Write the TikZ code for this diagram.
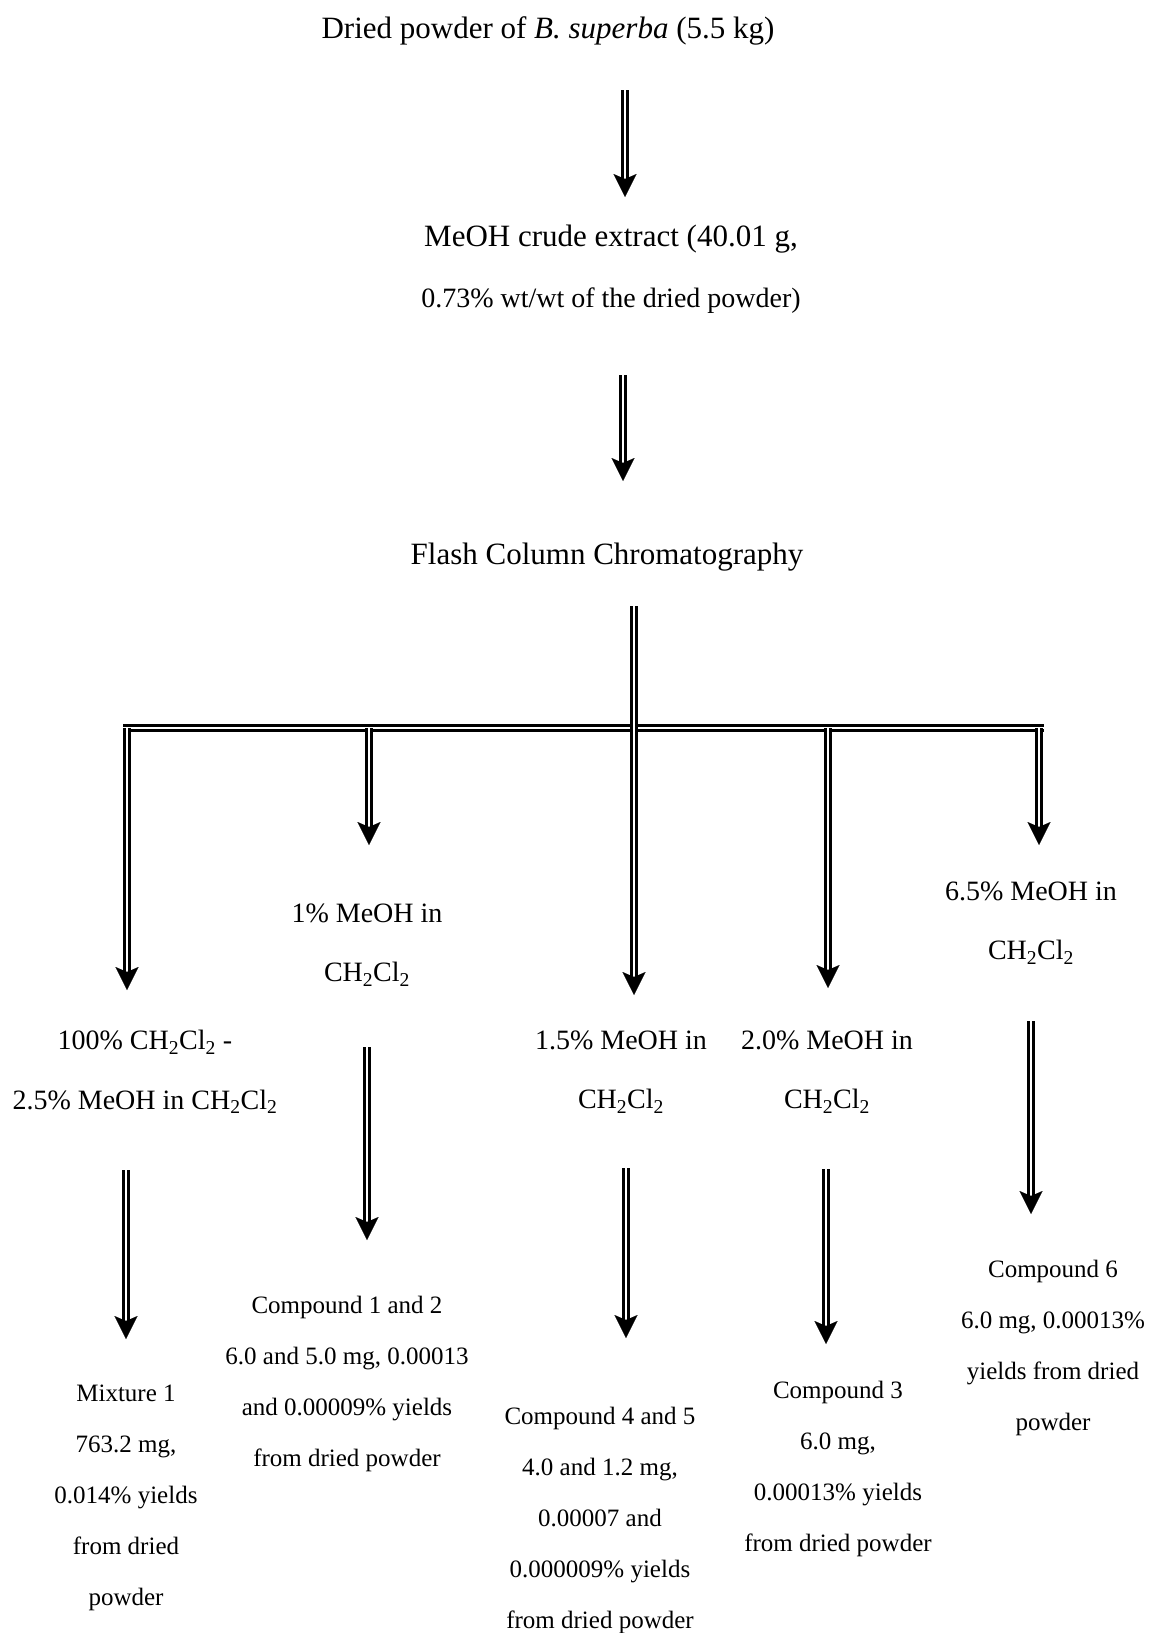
\documentclass[tikz,border=0pt]{standalone}
\usepackage{fontspec}
\setmainfont{Liberation Serif}
\usetikzlibrary{arrows.meta}
\newcommand\chcl{CH\textsubscript{2}Cl\textsubscript{2}}
\tikzset{
  shaft/.style={draw=black, double=white, double distance=2pt, line width=2.8pt, shorten >=12pt},
  headonly/.style={draw=white, line width=0.1pt, -{Stealth[length=23pt,width=23pt,inset=5pt,black]}},
  bar/.style={draw=black, double=white, double distance=2pt, line width=2.8pt},
  big/.style={font=\fontsize{31}{61}\selectfont, inner sep=0pt, align=center},
  lab/.style={font=\fontsize{28}{59.5}\selectfont, inner sep=0pt, align=center},
  res/.style={font=\fontsize{25}{51}\selectfont, inner sep=0pt, align=center}
}
\newcommand\dblarr[2]{\draw[shaft] (#1) -- (#2); \draw[headonly] (#1) -- (#2);}
\begin{document}
\begin{tikzpicture}[x=1pt,y=-1pt]
\useasboundingbox (0,0) rectangle (1150,1633);
% texts
\node[big] (title) at (548,31) {Dried powder of \textit{B. superba} (5.5 kg)};
\node[big] (crude) at (611,269) {MeOH crude extract (40.01 g,\\{\fontsize{28}{61}\selectfont 0.73\% wt/wt of the dried powder)}};
\node[big] (fcc) at (607,557) {Flash Column Chromatography};
\node[lab] (f1) at (145,1072) {100\% \chcl{} -\\2.5\% MeOH in \chcl};
\node[lab] (f2) at (367,945) {1\% MeOH in\\\chcl};
\node[lab] (f3) at (621,1072) {1.5\% MeOH in\\\chcl};
\node[lab] (f4) at (827,1072) {2.0\% MeOH in\\\chcl};
\node[lab] (f5) at (1031,923) {6.5\% MeOH in\\\chcl};
\node[res] (r1) at (126,1498) {Mixture 1\\763.2 mg,\\0.014\% yields\\from dried\\powder};
\node[res] (r2) at (347,1384) {Compound 1 and 2\\6.0 and 5.0 mg, 0.00013\\and 0.00009\% yields\\from dried powder};
\node[res] (r3) at (600,1520) {Compound 4 and 5\\4.0 and 1.2 mg,\\0.00007 and\\0.000009\% yields\\from dried powder};
\node[res] (r4) at (838,1469) {Compound 3\\6.0 mg,\\0.00013\% yields\\from dried powder};
\node[res] (r5) at (1053,1348) {Compound 6\\6.0 mg, 0.00013\%\\yields from dried\\powder};
% connector ends
\coordinate (a1s) at (625,90);   \coordinate (a1e) at (625,197);
\coordinate (a2s) at (623,375);  \coordinate (a2e) at (623,481);
\coordinate (ms) at (634,606);   \coordinate (me) at (634,995);
\coordinate (bl) at (123,728);   \coordinate (br) at (1044,728);
\coordinate (b1) at (127,728);   \coordinate (b1e) at (127,990);
\coordinate (b2) at (369,728);   \coordinate (b2e) at (369,845);
\coordinate (b4) at (828,728);   \coordinate (b4e) at (828,988);
\coordinate (b5) at (1039,728);  \coordinate (b5e) at (1039,845);
\coordinate (l1s) at (126,1170); \coordinate (l1e) at (126,1339);
\coordinate (l2s) at (367,1047); \coordinate (l2e) at (367,1240);
\coordinate (l3s) at (626,1168); \coordinate (l3e) at (626,1338);
\coordinate (l4s) at (826,1169); \coordinate (l4e) at (826,1344);
\coordinate (l5s) at (1031,1021);\coordinate (l5e) at (1031,1214);
% connectors
\dblarr{a1s}{a1e}
\dblarr{a2s}{a2e}
\draw[bar] (bl) -- (br);
\dblarr{ms}{me}
\dblarr{b1}{b1e}
\dblarr{b2}{b2e}
\dblarr{b4}{b4e}
\dblarr{b5}{b5e}
\dblarr{l1s}{l1e}
\dblarr{l2s}{l2e}
\dblarr{l3s}{l3e}
\dblarr{l4s}{l4e}
\dblarr{l5s}{l5e}
\end{tikzpicture}
\end{document}
